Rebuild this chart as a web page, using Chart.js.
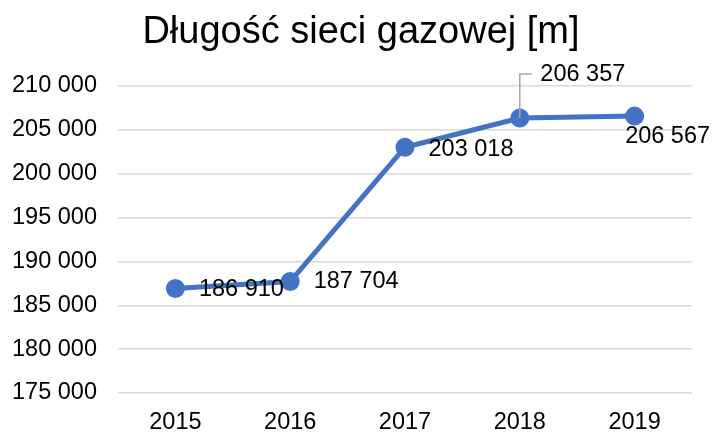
<!DOCTYPE html>
<html>
<head>
<meta charset="utf-8">
<script src="https://cdn.jsdelivr.net/npm/chart.js@4/dist/chart.umd.min.js"></script>
<style>
  html, body { margin: 0; padding: 0; background: #fff; }
  #wrap { width: 715px; height: 433px; }
</style>
</head>
<body>
<div id="wrap"><canvas id="gasChart" width="715" height="433"></canvas></div>
<script>
// chart data
const chartTitle = 'Długość sieci gazowej [m]';
const years = ['2015', '2016', '2017', '2018', '2019'];
const networkLength = [186910, 187704, 203018, 206357, 206567];
const yTicks = [175000, 180000, 185000, 190000, 195000, 200000, 205000, 210000];

// label offsets (px) relative to each point, like the Excel layout
const labelOffsets = [[66, 1], [66, 0], [66, 2], [63, -43], [33, 20]];

const FONT = '"Liberation Sans", Arial, sans-serif';
const fmt = v => String(v).replace(/\B(?=(\d{3})+(?!\d))/g, ' ');

// title is drawn by hand so it can sit centred on the canvas, not the layout box
const titlePlugin = {
  id: 'titleText',
  afterDraw(chart) {
    const ctx = chart.ctx;
    ctx.save();
    ctx.font = '38px ' + FONT;
    ctx.fillStyle = '#000';
    ctx.textAlign = 'center';
    ctx.textBaseline = 'alphabetic';
    ctx.fillText(chartTitle, 361, 43);
    ctx.restore();
  }
};

// draws the data labels + leader line for the 2018 point
const pointLabels = {
  id: 'pointLabels',
  afterDatasetsDraw(chart) {
    const ctx = chart.ctx;
    const meta = chart.getDatasetMeta(0);
    ctx.save();
    ctx.font = '23.5px ' + FONT;
    ctx.fillStyle = '#000';
    ctx.textAlign = 'center';
    ctx.textBaseline = 'middle';
    meta.data.forEach((pt, i) => {
      const [dx, dy] = labelOffsets[i];
      const lx = pt.x + dx, ly = pt.y + dy;
      if (i === 3) {
        ctx.strokeStyle = '#a6a6a6';
        ctx.lineWidth = 1.5;
        ctx.beginPath();
        ctx.moveTo(pt.x, pt.y);
        ctx.lineTo(pt.x, ly - 1);
        ctx.lineTo(pt.x + 12, ly - 1);
        ctx.stroke();
      }
      ctx.fillText(fmt(networkLength[i]), lx, ly);
    });
    ctx.restore();
  }
};

new Chart(document.getElementById('gasChart'), {
  type: 'line',
  data: {
    labels: years,
    datasets: [{
      data: networkLength,
      borderColor: '#4472C4',
      backgroundColor: '#4472C4',
      borderWidth: 5,
      pointRadius: 7,
      pointHoverRadius: 7,
      tension: 0
    }]
  },
  options: {
    responsive: false,
    animation: false,
    layout: { padding: { left: 0, right: 23, bottom: 0, top: 86 } },
    plugins: {
      legend: { display: false },
      tooltip: { enabled: false },
      title: { display: false }
    },
    scales: {
      x: {
        offset: true,
        grid: { display: false, drawTicks: false },
        border: { display: false },
        afterFit(scale) { scale.height = 40; },
        ticks: {
          color: '#000',
          padding: 18,
          maxRotation: 0,
          font: { family: FONT, size: 23.5, lineHeight: 1 }
        }
      },
      y: {
        min: 175000,
        max: 210000,
        afterBuildTicks(scale) {
          scale.ticks = yTicks.map(v => ({ value: v }));
        },
        afterFit(scale) { scale.width = 118; },
        grid: { color: '#d9d9d9', lineWidth: 1.5, drawTicks: false },
        border: { display: false },
        ticks: {
          color: '#000',
          padding: 21,
          font: { family: FONT, size: 23.5 },
          callback: v => fmt(v)
        }
      }
    }
  },
  plugins: [pointLabels, titlePlugin]
});
</script>
</body>
</html>
